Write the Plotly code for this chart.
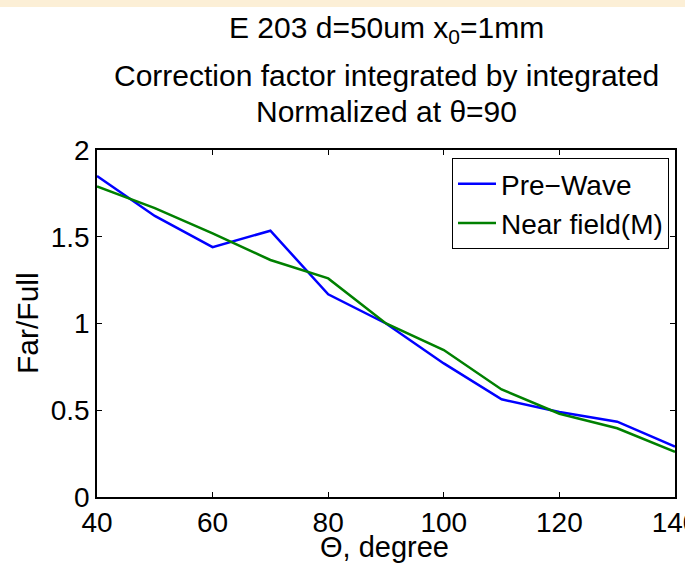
import plotly.graph_objects as go

theta = [40, 50, 60, 70, 80, 90, 100, 110, 120, 130, 140]
pre_wave = [1.85, 1.62, 1.44, 1.535, 1.168, 1.0, 0.77, 0.563, 0.49, 0.434, 0.29]
near_field = [1.79, 1.665, 1.52, 1.366, 1.26, 1.0, 0.847, 0.62, 0.48, 0.396, 0.26]

x_ticks = [40, 60, 80, 100, 120, 140]
y_ticks = [0, 0.5, 1, 1.5, 2]
y_tick_text = ["0", "0.5", "1", "1.5", "2"]

FONT = "Liberation Sans, Arial, Helvetica, sans-serif"

W, H = 685, 565
L, R, T, B = 97, 10, 150, 68
PH = H - T - B
PW = W - L - R


def py(ypx):
    return (H - B - ypx) / PH


def px(xpx):
    return (xpx - L) / PW


fig = go.Figure()
fig.add_trace(go.Scatter(x=theta, y=pre_wave, mode="lines", name="Pre\u2212Wave",
                         line=dict(color="#0000FF", width=2.5)))
fig.add_trace(go.Scatter(x=theta, y=near_field, mode="lines", name="Near field(M)",
                         line=dict(color="#008000", width=2.5)))

axis_common = dict(showline=True, linecolor="black", linewidth=1.5, mirror="ticks",
                   ticks="inside", ticklen=5, tickwidth=1.2, tickcolor="black",
                   showgrid=False, zeroline=False, ticklabeloverflow="allow",
                   automargin=False,
                   tickfont=dict(family=FONT, size=28, color="black"))

fig.update_xaxes(range=[40, 140], tickvals=x_ticks, **axis_common)
fig.update_yaxes(range=[0, 2], tickvals=y_ticks, ticktext=y_tick_text, **axis_common)

annotations = [
    dict(text="E 203 d=50um x<sub>0</sub>=1mm", x=px(386), y=py(29), yanchor="middle", size=30),
    dict(text="Correction factor integrated by integrated", x=px(386), y=py(75), yanchor="middle", size=30),
    dict(text="Normalized at \u03b8=90", x=px(386), y=py(111), yanchor="middle", size=30),
    dict(text="\u0398, degree", x=px(384), y=py(565), yanchor="bottom", size=29),
    dict(text="Far/Full", x=px(27), y=py(323), yanchor="middle", size=30, textangle=-90),
]
for a in annotations:
    size = a.pop("size")
    fig.add_annotation(xref="paper", yref="paper", showarrow=False,
                       xanchor="center",
                       font=dict(family=FONT, size=size, color="black"), **a)

fig.add_shape(type="rect", xref="paper", yref="paper", layer="below",
              x0=px(-5), x1=px(W + 5), y0=py(7), y1=py(-5),
              fillcolor="#FCEFD6", line=dict(width=0))

fig.update_layout(
    width=W, height=H,
    margin=dict(l=L, r=R, t=T, b=B, autoexpand=False),
    paper_bgcolor="white", plot_bgcolor="white",
    showlegend=True,
    legend=dict(x=px(669), y=py(158), xanchor="right", yanchor="top",
                bgcolor="white", bordercolor="black", borderwidth=1,
                font=dict(family=FONT, size=28, color="black"),
                itemwidth=38, tracegroupgap=0),
)

fig.write_html("out.html")
